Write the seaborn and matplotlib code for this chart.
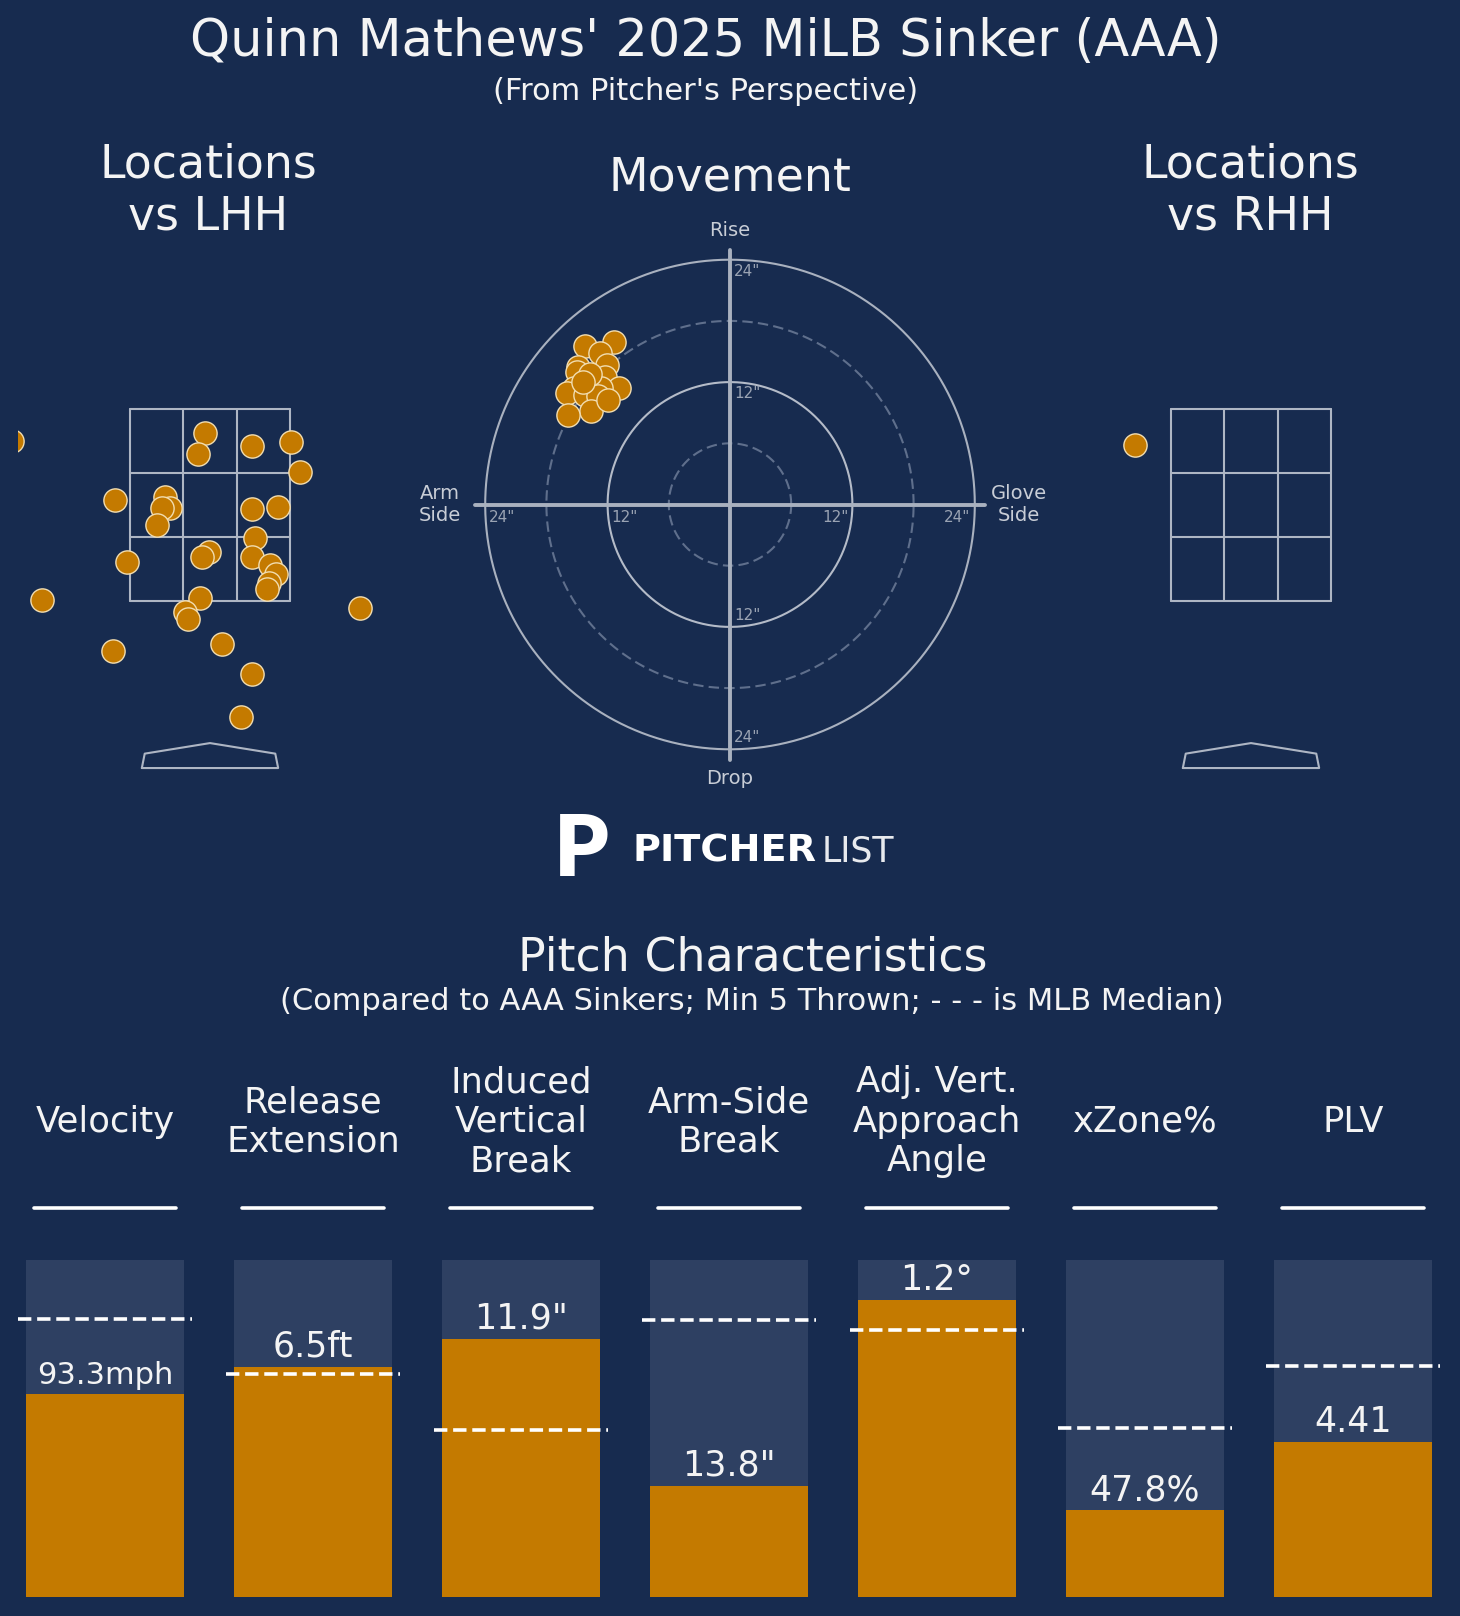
import numpy as np
import pandas as pd
import matplotlib
matplotlib.use("Agg")
import matplotlib.pyplot as plt
import seaborn as sns

# ----------------------
# data
# ----------------------
# pitch locations (ft, pitcher's view), vs LHH and vs RHH
lhh_x = [-2.06, -0.05, -0.13, 0.44, 0.84, 0.94, -0.99, -0.47, -0.42, -0.50, -0.55,
         0.44, 0.71, 0.47, -0.86, -0.01, -0.08, 0.44, 0.63, 0.69, 0.61, 0.59,
         -1.75, -0.10, -0.26, -0.23, 1.56, -1.01, 0.12, 0.44, 0.32]
lhh_z = [3.17, 3.25, 3.03, 3.11, 3.16, 2.84, 2.55, 2.58, 2.47, 2.47, 2.29,
         2.46, 2.48, 2.16, 1.91, 2.01, 1.96, 1.96, 1.87, 1.78, 1.69, 1.63,
         1.51, 1.53, 1.39, 1.31, 1.43, 0.98, 1.05, 0.74, 0.29]
rhh_x = [-1.21]
rhh_z = [3.13]

# movement (inches): negative = arm side
mov_hb = [-14.2, -11.4, -12.7, -12.1, -14.9, -15.0, -12.3, -10.9, -12.6,
          -15.3, -16.0, -14.2, -12.9, -13.6, -15.9, -13.7, -14.4, -12.0]
mov_ivb = [15.5, 15.9, 14.9, 13.7, 13.5, 13.0, 12.5, 11.4, 11.4,
           11.4, 10.9, 10.7, 10.6, 9.2, 8.8, 12.8, 12.0, 10.2]

# pitch characteristics (percentile scale 0-1)
metric_names = ["Velocity", "Release\nExtension", "Induced\nVertical\nBreak",
                "Arm-Side\nBreak", "Adj. Vert.\nApproach\nAngle", "xZone%", "PLV"]
metric_pctl = [0.603, 0.682, 0.766, 0.330, 0.881, 0.257, 0.459]
median_pctl = [0.826, 0.663, 0.496, 0.822, 0.792, 0.501, 0.685]
value_labels = ["93.3mph", "6.5ft", '11.9"', '13.8"', "1.2°", "47.8%", "4.41"]

# ----------------------
# style
# ----------------------
BG = "#172B4F"
BAR_BG = "#2E4062"
ORANGE = "#C47A00"
EDGE = "#F2DDB0"
ZONE = "#AEB6C4"
TXT = "#F4F4F4"

sns.set_style("white")
plt.rcParams["font.family"] = ["DejaVu Sans"]
plt.rcParams["figure.facecolor"] = BG
plt.rcParams["axes.facecolor"] = BG

W, H = 1460, 1616
fig = plt.figure(figsize=(W / 100, H / 100), dpi=100)


def px_axes(x0, y0, x1, y1):
    # axes from pixel box (top-left origin)
    return fig.add_axes([x0 / W, 1 - y1 / H, (x1 - x0) / W, (y1 - y0) / H])


def draw_zone(ax):
    zx = [-0.83, -0.83 / 3, 0.83 / 3, 0.83]
    zy = [1.5, 1.5 + 2 / 3, 1.5 + 4 / 3, 3.5]
    for x in zx:
        ax.plot([x, x], [1.5, 3.5], color=ZONE, lw=1.5, zorder=1)
    for y in zy:
        ax.plot([-0.83, 0.83], [y, y], color=ZONE, lw=1.5, zorder=1)
    plate_x = [-0.71, -0.68, 0, 0.68, 0.71, -0.71]
    plate_y = [-0.24, -0.09, 0.02, -0.09, -0.24, -0.24]
    ax.plot(plate_x, plate_y, color=ZONE, lw=1.5, zorder=1)


def loc_panel(ax, xs, zs):
    draw_zone(ax)
    sns.scatterplot(x=xs, y=zs, ax=ax, s=280, color=ORANGE, edgecolor=EDGE,
                    linewidth=1, zorder=3, legend=False)
    ax.set_xlim(-2, 2)
    ax.set_ylim(-0.5, 4.5)
    ax.axis("off")


# locations
ax_l = px_axes(18, 313, 402, 793)
loc_panel(ax_l, lhh_x, lhh_z)
ax_r = px_axes(1059, 313, 1443, 793)
loc_panel(ax_r, rhh_x, rhh_z)

# movement
ax_m = px_axes(424, 198.5, 1036, 810.5)
t = np.linspace(0, 2 * np.pi, 400)
for r, ls, col in [(6, (0, (5, 2.5)), "#5F6F8C"), (12, "-", "#B4BBC8"),
                   (18, (0, (5, 2.5)), "#5F6F8C"), (24, "-", "#A9B1BF")]:
    ax_m.plot(r * np.cos(t), r * np.sin(t), color=col, lw=1.5, ls=ls, zorder=1)
ax_m.plot([-25, 25], [0, 0], color="#A9B1BF", lw=2.8, zorder=1)
ax_m.plot([0, 0], [-25, 25], color="#A9B1BF", lw=2.8, zorder=1)
tick_kw = dict(color="#9AA3B3", fontsize=11)
for v in (12, 24):
    ax_m.text(-v + 0.4, -0.5, f'{v}"', ha="left", va="top", **tick_kw)
    ax_m.text(v - 0.4, -0.5, f'{v}"', ha="right", va="top", **tick_kw)
    ax_m.text(0.4, v - 0.4, f'{v}"', ha="left", va="top", **tick_kw)
    ax_m.text(0.4, -v + 0.4, f'{v}"', ha="left", va="bottom", **tick_kw)
lab_kw = dict(color="#C8CDD6", fontsize=14, ha="center", va="center")
ax_m.text(0, 26.9, "Rise", **lab_kw)
ax_m.text(0, -26.9, "Drop", **lab_kw)
ax_m.text(-28.4, 0, "Arm\nSide", **lab_kw)
ax_m.text(28.3, 0, "Glove\nSide", **lab_kw)
sns.scatterplot(x=mov_hb, y=mov_ivb, ax=ax_m, s=280, color=ORANGE, edgecolor=EDGE,
                linewidth=1, zorder=3, legend=False)
ax_m.set_xlim(-30, 30)
ax_m.set_ylim(-30, 30)
ax_m.axis("off")

# headers
fig.text(706 / W, 1 - 42 / H, "Quinn Mathews' 2025 MiLB Sinker (AAA)", color=TXT,
         fontsize=36.7, ha="center", va="center")
fig.text(706 / W, 1 - 92 / H, "(From Pitcher's Perspective)", color=TXT,
         fontsize=22, ha="center", va="center")
fig.text(208.5 / W, 1 - 191 / H, "Locations\nvs LHH", color=TXT, fontsize=33,
         ha="center", va="center")
fig.text(729.5 / W, 1 - 178.3 / H, "Movement", color=TXT, fontsize=33,
         ha="center", va="center")
fig.text(1250 / W, 1 - 191 / H, "Locations\nvs RHH", color=TXT, fontsize=33,
         ha="center", va="center")

# logo
fig.text(581 / W, 1 - 851 / H, "P", color="white", fontsize=62, fontweight="heavy",
         family=["Lato", "DejaVu Sans"], ha="center", va="center")
fig.text(633 / W, 1 - 852 / H, "PITCHER", color="white", fontsize=27.5, fontweight="bold",
         ha="left", va="center")
fig.text(822 / W, 1 - 852 / H, "LIST", color="#E8EAEE", fontsize=25, fontweight="normal",
         ha="left", va="center")

fig.text(753 / W, 1 - 958 / H, "Pitch Characteristics", color=TXT, fontsize=33,
         ha="center", va="center")
fig.text(752 / W, 1 - 1001.7 / H,
         "(Compared to AAA Sinkers; Min 5 Thrown; - - - is MLB Median)",
         color=TXT, fontsize=22, ha="center", va="center")

# bars
ax_b = px_axes(1, 1260, 1457, 1597)
df = pd.DataFrame({"metric": metric_names, "pctl": metric_pctl,
                   "full": np.ones(len(metric_names))})
sns.barplot(data=df, x="metric", y="full", color=BAR_BG, saturation=1,
            width=0.755, linewidth=0, edgecolor="none", ax=ax_b, zorder=1)
sns.barplot(data=df, x="metric", y="pctl", color=ORANGE, saturation=1,
            width=0.755, linewidth=0, edgecolor="none", ax=ax_b, zorder=2)
for i, (name, p, m, lab) in enumerate(zip(metric_names, metric_pctl, median_pctl, value_labels)):
    ax_b.hlines(m, i - 0.418, i + 0.418, colors="white", linestyles="--", lw=2.6, zorder=4)
    fs = 25 if len(lab) < 7 else 22
    ax_b.text(i, p + 0.01, lab, color=TXT, fontsize=fs, ha="center", va="bottom", zorder=5)
    ax_b.text(i, 1.41, name, color=TXT, fontsize=25.5, ha="center", va="center")
    ax_b.plot([i - 0.3425, i + 0.3425], [1.155, 1.155], color="white", lw=2.6,
              clip_on=False)
ax_b.set_xlim(-0.5, 6.5)
ax_b.set_ylim(0, 1)
ax_b.axis("off")

fig.savefig("out.png", dpi=100, facecolor=BG)
